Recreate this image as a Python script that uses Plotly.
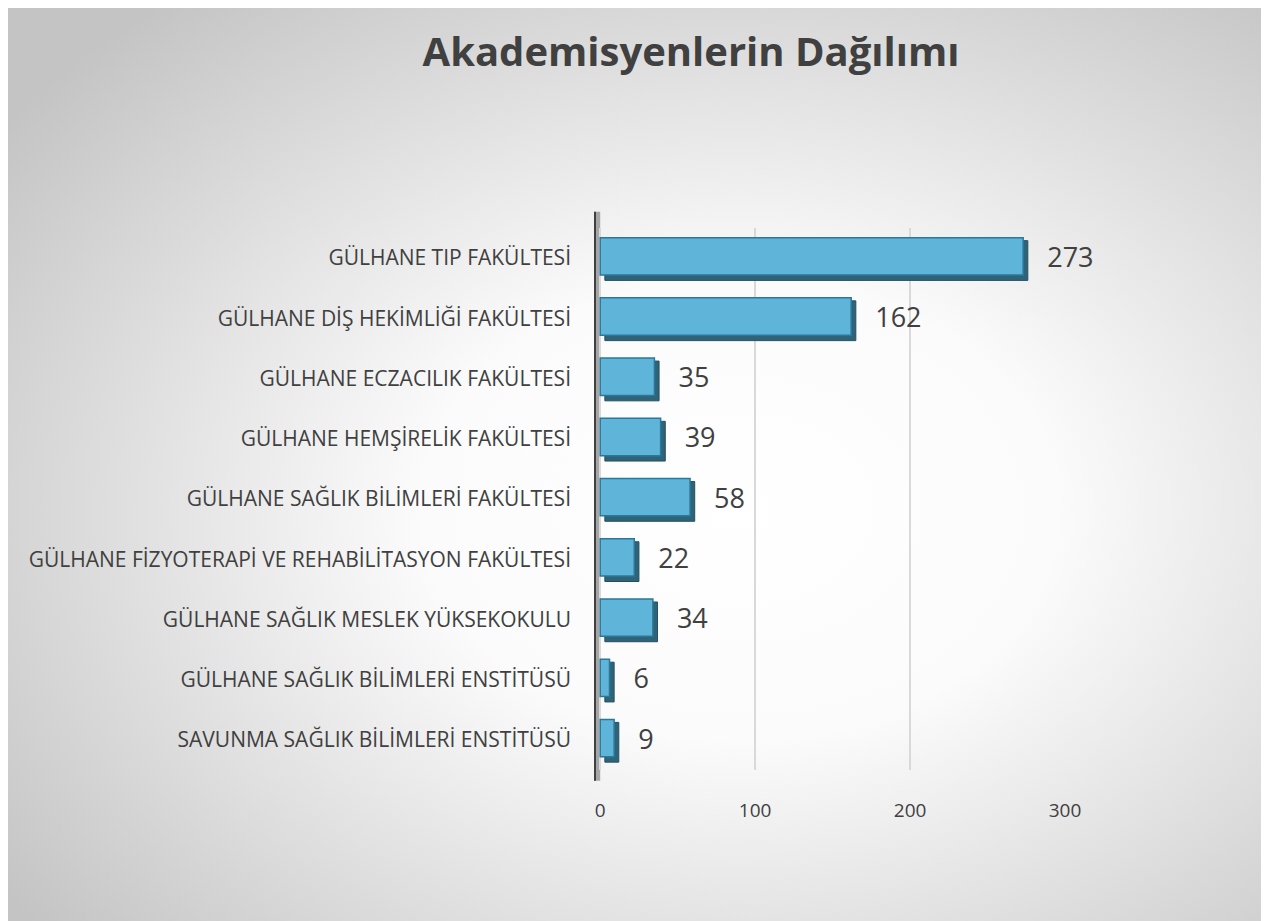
import base64
import plotly.graph_objects as go

# chart data
categories = [
    "GÜLHANE TIP FAKÜLTESİ",
    "GÜLHANE DİŞ HEKİMLİĞİ FAKÜLTESİ",
    "GÜLHANE ECZACILIK FAKÜLTESİ",
    "GÜLHANE HEMŞİRELİK FAKÜLTESİ",
    "GÜLHANE SAĞLIK BİLİMLERİ FAKÜLTESİ",
    "GÜLHANE FİZYOTERAPİ VE REHABİLİTASYON FAKÜLTESİ",
    "GÜLHANE SAĞLIK MESLEK YÜKSEKOKULU",
    "GÜLHANE SAĞLIK BİLİMLERİ ENSTİTÜSÜ",
    "SAVUNMA SAĞLIK BİLİMLERİ ENSTİTÜSÜ",
]
counts = [273, 162, 35, 39, 58, 22, 34, 6, 9]
x_ticks = [0, 100, 200, 300]

# the page body has an 8px margin, so the figure is a bit smaller than the window
W, H = 1261, 913
ML, MR, MT, MB = 586, 204, 220, 151
FONT = "'Open Sans', sans-serif"
TEXT_COLOR = "#404040"

# radial gradient background, drawn as an inline svg image
svg = f"""<svg xmlns='http://www.w3.org/2000/svg' width='{W}' height='{H}'>
<defs><radialGradient id='g' cx='0.58' cy='0.55' r='0.72'>
<stop offset='0' stop-color='#ffffff'/>
<stop offset='0.35' stop-color='#fbfbfb'/>
<stop offset='1' stop-color='#c4c4c4'/>
</radialGradient></defs>
<rect x='0' y='0' width='{W}' height='{H}' fill='url(#g)'/>
</svg>"""
bg_src = "data:image/svg+xml;base64," + base64.b64encode(svg.encode()).decode()

pw = W - ML - MR
ph = H - MT - MB

fig = go.Figure()

# darker "depth" block behind each bar for the 3d look
fig.add_trace(
    go.Bar(
        y=categories,
        x=counts,
        base=3,
        orientation="h",
        width=0.66,
        offset=-0.29,
        marker=dict(color="#2f6378", line=dict(color="#235063", width=1)),
        hoverinfo="skip",
        showlegend=False,
    )
)

# front face of the bars
fig.add_trace(
    go.Bar(
        y=categories,
        x=counts,
        orientation="h",
        width=0.62,
        offset=-0.34,
        marker=dict(color="#5fb4da", line=dict(color="#2c7898", width=1.5)),
        text=["   " + str(v) for v in counts],
        textposition="outside",
        textfont=dict(size=27, color=TEXT_COLOR, family=FONT),
        cliponaxis=False,
        hovertemplate="%{y}: %{x}<extra></extra>",
        showlegend=False,
    )
)

fig.update_layout(
    width=W,
    height=H,
    margin=dict(l=ML, r=MR, t=MT, b=MB),
    barmode="overlay",
    paper_bgcolor="#d0d0d0",
    plot_bgcolor="rgba(0,0,0,0)",
    font=dict(family=FONT, color=TEXT_COLOR),
    title=dict(
        text="<b>Akademisyenlerin Dağılımı</b>",
        x=683 / W,
        xanchor="center",
        y=1 - 44 / H,
        yanchor="middle",
        font=dict(size=40, color=TEXT_COLOR, family=FONT),
    ),
    images=[
        dict(
            source=bg_src,
            xref="paper",
            yref="paper",
            x=-ML / pw,
            y=1 + MT / ph,
            sizex=W / pw,
            sizey=H / ph,
            sizing="stretch",
            xanchor="left",
            yanchor="top",
            layer="below",
        )
    ],
    shapes=[
        # side wall of the 3d plot
        dict(
            type="rect",
            xref="x",
            yref="paper",
            x0=-4,
            x1=0,
            y0=-0.02,
            y1=1.03,
            fillcolor="#a6a6a6",
            line=dict(width=0),
            layer="below",
        ),
        dict(
            type="line",
            xref="x",
            yref="paper",
            x0=-4,
            x1=-4,
            y0=-0.02,
            y1=1.03,
            line=dict(color="#404040", width=4),
        ),
    ],
)

fig.update_xaxes(
    range=[-4, 300],
    tickvals=x_ticks,
    ticktext=[str(t) for t in x_ticks],
    showgrid=True,
    gridcolor="#d9d9d9",
    gridwidth=2,
    zeroline=False,
    showline=False,
    ticks="",
    ticklabelstandoff=27,
    tickfont=dict(size=19, color=TEXT_COLOR, family=FONT),
)

fig.update_yaxes(
    type="category",
    categoryorder="array",
    categoryarray=categories,
    autorange="reversed",
    showgrid=False,
    zeroline=False,
    showline=False,
    ticks="",
    ticklabelstandoff=22,
    tickfont=dict(size=21, color=TEXT_COLOR, family=FONT),
)

fig.write_html("out.html")
